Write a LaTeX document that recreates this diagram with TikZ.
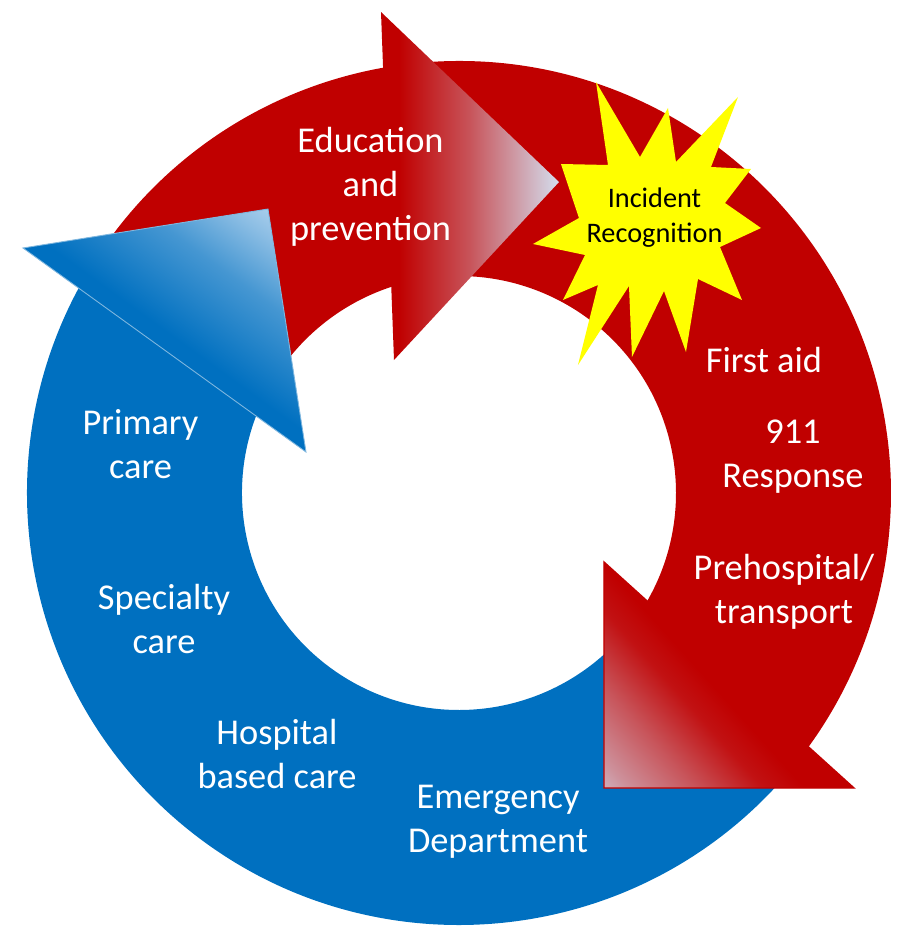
\documentclass[tikz,border=0pt]{standalone}
\usepackage{fontspec}
\setmainfont{Carlito}
\usetikzlibrary{calc}

\definecolor{ringred}{RGB}{192,0,0}
\definecolor{ringblue}{RGB}{0,112,192}
\definecolor{tipgray}{RGB}{212,222,238}
\definecolor{tipblue}{RGB}{198,222,243}
\definecolor{staryellow}{RGB}{255,255,0}
\colorlet{redmixA}{ringred!35!tipgray}
\colorlet{redmixB}{ringred!62!tipgray}
\colorlet{redmixC}{ringred!92!tipgray}
\colorlet{bluemixA}{ringblue!65!tipblue}
\colorlet{bluemixB}{ringblue!30!tipblue}

% Fades of the three arrow heads
\pgfdeclarehorizontalshading{edufade}{100bp}{color(0bp)=(ringred); color(30bp)=(ringred);
  color(50bp)=(redmixB); color(75bp)=(tipgray); color(100bp)=(tipgray)}
\pgfdeclareverticalshading{respfade}{100bp}{color(0bp)=(tipgray); color(8bp)=(tipgray);
  color(18.5bp)=(redmixA); color(29bp)=(redmixB); color(39.5bp)=(redmixC);
  color(46bp)=(ringred); color(100bp)=(ringred)}
\pgfdeclareverticalshading{carefade}{100bp}{color(0bp)=(ringblue); color(50bp)=(ringblue);
  color(66bp)=(bluemixA); color(76bp)=(bluemixB); color(85.5bp)=(tipblue);
  color(100bp)=(tipblue)}

\tikzset{
  ringlabel/.style={text=white, align=center, anchor=base, inner sep=0pt,
    font=\fontsize{20.7}{25}\selectfont},
  starlabel/.style={text=black, align=center, anchor=base, inner sep=0pt,
    font=\fontsize{16.1}{19.9}\selectfont}
}

\begin{document}
\begin{tikzpicture}[x=0.02cm, y=0.02cm]

  \useasboundingbox (-459,-434) rectangle (443,493);

  % Radii of the ring
  \def\Rout{432}
  \def\Rin{217}

  % Shafts of the three circular arrows
  \fill[ringblue] (-40:\Rout) arc[start angle=-40, end angle=-212, radius=\Rout]
    -- (-212:\Rin) arc[start angle=-212, end angle=-40, radius=\Rin] -- cycle;
  \fill[ringred] (146:\Rout) arc[start angle=146, end angle=97, radius=\Rout]
    -- (97:\Rin) arc[start angle=97, end angle=146, radius=\Rin] -- cycle;
  \fill[ringred] (95:\Rout) arc[start angle=95, end angle=-38, radius=\Rout]
    -- (-38:\Rin) arc[start angle=-38, end angle=95, radius=\Rin] -- cycle;

  % Arrow heads
  \coordinate (EduTop) at (-78,481);
  \coordinate (EduTip) at (100,311);
  \coordinate (EduBot) at (-65,133);
  \shade[shading=edufade] (EduTop) -- (EduTip) -- (EduBot) -- cycle;

  \coordinate (CareOut) at (-436,245);
  \coordinate (CareTip) at (-191,284);
  \coordinate (CareIn) at (-153,41);
  \shadedraw[shading=carefade, shading angle=-36, draw=ringblue!50!white, line width=0.5pt]
    (CareOut) -- (CareTip) -- (CareIn) -- cycle;

  \coordinate (RespIn) at (145,-69);
  \coordinate (RespTip) at (145,-295);
  \coordinate (RespOut) at (395,-295);
  \shadedraw[shading=respfade, shading angle=-48, draw=ringred, line width=0.8pt]
    (RespIn) -- (RespTip) -- (RespOut) -- cycle;

  % Explosion
  \fill[staryellow] (137,411) -- (181,336) -- (209,385) -- (217,331) -- (279,396)
    -- (252,326) -- (292,324) -- (266,290) -- (302,265) -- (261,246) -- (283,193)
    -- (239,214) -- (227,141) -- (205,202) -- (173,136) -- (170,207) -- (119,128)
    -- (139,208) -- (104,193) -- (126,238) -- (74,249) -- (120,275) -- (102,329)
    -- (149,328) -- cycle;

  % Labels (placed at the baseline of their last line)
  \node[starlabel] (Incident) at (195.5,251) {Incident\\Recognition};
  \node[ringlabel] (Edu) at (-88.5,253) {Education\\and\\prevention};
  \node[ringlabel] (FirstAid) at (305,121) {First aid};
  \node[ringlabel] (Response) at (334,6) {911\\Response};
  \node[ringlabel] (Transport) at (325,-130) {Prehospital/\\transport};
  \node[ringlabel] (Primary) at (-318.5,15) {Primary\\care};
  \node[ringlabel] (Specialty) at (-295,-160) {Specialty\\care};
  \node[ringlabel] (Hospital) at (-182,-295) {Hospital\\based care};
  \node[ringlabel] (Emergency) at (39,-359) {Emergency\\Department};

\end{tikzpicture}
\end{document}
